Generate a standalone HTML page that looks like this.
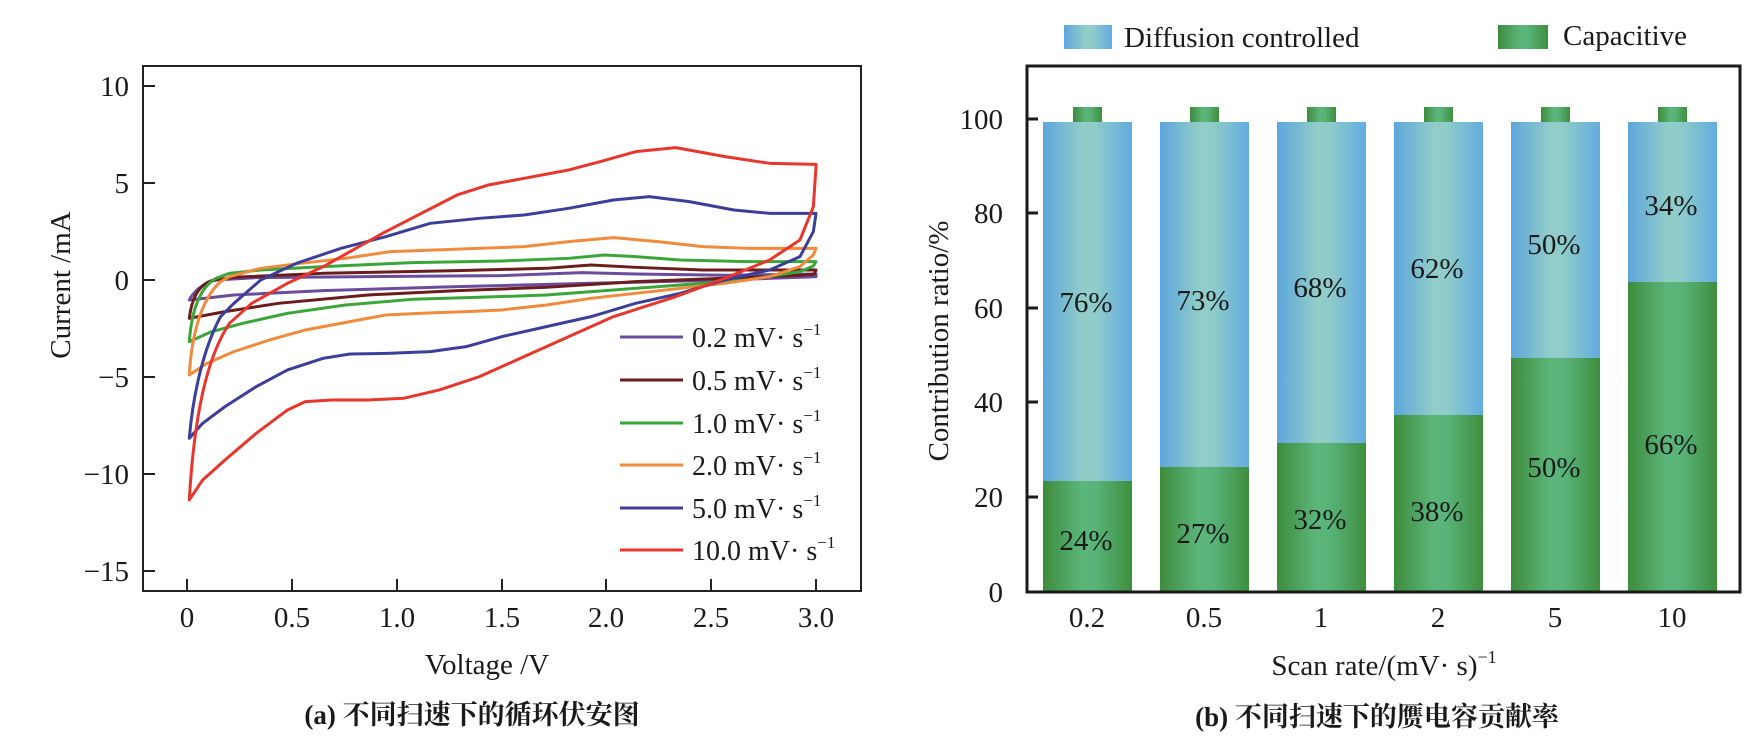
<!DOCTYPE html>
<html><head><meta charset="utf-8"><style>
html,body{margin:0;padding:0;background:#fff;}
svg{display:block;}
text{font-family:"Liberation Serif","Noto Serif CJK SC",serif;fill:#1a1a1a;}
</style></head><body>
<svg width="1744" height="748" viewBox="0 0 1744 748" xmlns="http://www.w3.org/2000/svg">
<defs>
<linearGradient id="gb" x1="0" x2="1" y1="0" y2="0">
<stop offset="0" stop-color="#5da6dc"/><stop offset="0.45" stop-color="#92cdc8"/><stop offset="0.6" stop-color="#8ecbca"/><stop offset="1" stop-color="#62ace0"/></linearGradient>
<linearGradient id="gg" x1="0" x2="1" y1="0" y2="0">
<stop offset="0" stop-color="#3d8c3c"/><stop offset="0.45" stop-color="#5cb67b"/><stop offset="0.6" stop-color="#58b378"/><stop offset="1" stop-color="#3f8e3e"/></linearGradient>
</defs>

<!-- LEFT CHART -->
<rect x="143" y="66" width="718" height="525" fill="none" stroke="#222" stroke-width="2"/>
<g stroke="#222" stroke-width="2">
<line x1="143" y1="86" x2="155" y2="86"/><line x1="143" y1="183" x2="155" y2="183"/>
<line x1="143" y1="280" x2="155" y2="280"/><line x1="143" y1="377" x2="155" y2="377"/>
<line x1="143" y1="474" x2="155" y2="474"/><line x1="143" y1="571" x2="155" y2="571"/>
<line x1="187" y1="591" x2="187" y2="579"/><line x1="292" y1="591" x2="292" y2="579"/>
<line x1="397" y1="591" x2="397" y2="579"/><line x1="502" y1="591" x2="502" y2="579"/>
<line x1="606" y1="591" x2="606" y2="579"/><line x1="711" y1="591" x2="711" y2="579"/>
<line x1="816" y1="591" x2="816" y2="579"/>
</g>
<g font-size="29" text-anchor="end">
<text x="129" y="96">10</text><text x="129" y="193">5</text><text x="129" y="290">0</text>
<text x="129" y="387">−5</text><text x="129" y="484">−10</text><text x="129" y="581">−15</text>
</g>
<g font-size="29" text-anchor="middle">
<text x="187" y="627">0</text><text x="292" y="627">0.5</text><text x="397" y="627">1.0</text>
<text x="502" y="627">1.5</text><text x="606" y="627">2.0</text><text x="711" y="627">2.5</text><text x="816" y="627">3.0</text>
</g>
<text x="487" y="674" font-size="29" text-anchor="middle">Voltage /V</text>
<text transform="translate(70,285) rotate(-90)" font-size="29" text-anchor="middle">Current /mA</text>
<text x="472" y="724" font-size="27" font-weight="bold" text-anchor="middle">(a) 不同扫速下的循环伏安图</text>

<g transform="translate(100,50) scale(0.4464,0.3333)" fill="none" stroke-width="3" stroke-linejoin="round">
<path vector-effect="non-scaling-stroke" stroke="#6a4c9c" d="M200,750 C210,725 230,700 260,690 L350,683 600,680 900,677 1080,668 1200,672 1400,676 1604,672 L1604,680 1568,682 1400,690 1100,700 800,710 500,722 300,735 Z"/>
<path vector-effect="non-scaling-stroke" stroke="#6b1c1c" d="M200,805 C205,750 220,705 250,692 L300,682 500,670 800,662 1000,655 1100,645 1200,652 1350,660 1604,660 L1600,672 1568,676 1400,685 1200,695 1000,712 800,722 600,735 400,760 280,785 Z"/>
<path vector-effect="non-scaling-stroke" stroke="#3aa63a" d="M200,875 C205,790 220,715 260,685 L290,670 360,660 500,650 700,638 900,633 1050,625 1130,615 1200,620 1300,630 1450,635 1604,635 L1598,648 1568,665 1450,690 1300,705 1150,720 1000,735 850,742 700,748 550,765 420,790 320,820 250,845 Z"/>
<path vector-effect="non-scaling-stroke" stroke="#f08a3c" d="M200,975 C205,860 225,750 270,695 L290,680 360,655 450,640 550,625 650,605 750,600 850,595 950,590 1050,575 1150,563 1250,575 1350,590 1450,595 1604,595 L1598,615 1568,650 1500,680 1400,700 1300,715 1200,730 1100,745 1000,765 900,780 820,785 720,790 640,795 560,815 460,840 380,870 300,905 240,940 Z"/>
<path vector-effect="non-scaling-stroke" stroke="#3b3f99" d="M200,1165 C208,1040 230,900 270,800 L300,760 360,690 440,640 540,595 640,560 740,520 850,505 950,495 1050,475 1150,450 1230,440 1320,455 1420,480 1500,490 1604,490 L1598,545 1568,620 1500,660 1400,690 1300,730 1200,760 1100,800 1000,830 900,860 820,890 740,905 650,910 560,912 500,925 420,960 350,1010 280,1070 230,1120 Z"/>
<path vector-effect="non-scaling-stroke" stroke="#e8362d" d="M200,1350 C210,1120 235,930 290,820 L340,760 420,700 500,650 640,545 720,490 800,435 870,405 950,385 1050,360 1120,335 1200,305 1290,293 1400,320 1500,340 1604,343 L1604,350 1598,470 1568,570 1500,630 1400,685 1290,740 1150,800 1050,860 950,920 850,980 760,1020 680,1045 600,1050 520,1050 460,1055 420,1080 350,1150 280,1230 230,1290 Z"/>
</g>

<g stroke-width="3">
<line x1="620" y1="337" x2="683" y2="337" stroke="#6a4c9c"/>
<line x1="620" y1="380" x2="683" y2="380" stroke="#6b1c1c"/>
<line x1="620" y1="423" x2="683" y2="423" stroke="#3aa63a"/>
<line x1="620" y1="465" x2="683" y2="465" stroke="#f08a3c"/>
<line x1="620" y1="508" x2="683" y2="508" stroke="#3b3f99"/>
<line x1="620" y1="550" x2="683" y2="550" stroke="#e8362d"/>
</g>
<g font-size="28">
<text x="692" y="347">0.2 mV· s<tspan font-size="17" dy="-12">−1</tspan></text>
<text x="692" y="390">0.5 mV· s<tspan font-size="17" dy="-12">−1</tspan></text>
<text x="692" y="433">1.0 mV· s<tspan font-size="17" dy="-12">−1</tspan></text>
<text x="692" y="475">2.0 mV· s<tspan font-size="17" dy="-12">−1</tspan></text>
<text x="692" y="518">5.0 mV· s<tspan font-size="17" dy="-12">−1</tspan></text>
<text x="692" y="560">10.0 mV· s<tspan font-size="17" dy="-12">−1</tspan></text>
</g>

<!-- RIGHT CHART -->
<rect x="1064" y="25" width="48" height="24" fill="url(#gb)"/>
<text x="1124" y="47" font-size="29">Diffusion controlled</text>
<rect x="1498" y="25" width="50" height="24" fill="url(#gg)"/>
<text x="1563" y="45" font-size="29">Capacitive</text>

<g>
<rect x="1043" y="122" width="89" height="470" fill="url(#gb)"/><rect x="1043" y="481" width="89" height="111" fill="url(#gg)"/><rect x="1073" y="107" width="29" height="15" fill="url(#gg)"/>
<rect x="1160" y="122" width="89" height="470" fill="url(#gb)"/><rect x="1160" y="467" width="89" height="125" fill="url(#gg)"/><rect x="1190" y="107" width="29" height="15" fill="url(#gg)"/>
<rect x="1277" y="122" width="89" height="470" fill="url(#gb)"/><rect x="1277" y="443" width="89" height="149" fill="url(#gg)"/><rect x="1307" y="107" width="29" height="15" fill="url(#gg)"/>
<rect x="1394" y="122" width="89" height="470" fill="url(#gb)"/><rect x="1394" y="415" width="89" height="177" fill="url(#gg)"/><rect x="1424" y="107" width="29" height="15" fill="url(#gg)"/>
<rect x="1511" y="122" width="89" height="470" fill="url(#gb)"/><rect x="1511" y="358" width="89" height="234" fill="url(#gg)"/><rect x="1541" y="107" width="29" height="15" fill="url(#gg)"/>
<rect x="1628" y="122" width="89" height="470" fill="url(#gb)"/><rect x="1628" y="282" width="89" height="310" fill="url(#gg)"/><rect x="1658" y="107" width="29" height="15" fill="url(#gg)"/>
</g>
<rect x="1027" y="66" width="713" height="526" fill="none" stroke="#1a1a1a" stroke-width="3"/>
<g stroke="#1a1a1a" stroke-width="3">
<line x1="1027" y1="119" x2="1038" y2="119"/><line x1="1027" y1="213" x2="1038" y2="213"/>
<line x1="1027" y1="308" x2="1038" y2="308"/><line x1="1027" y1="402" x2="1038" y2="402"/>
<line x1="1027" y1="497" x2="1038" y2="497"/>
</g>
<g font-size="29" text-anchor="end">
<text x="1003" y="129">100</text><text x="1003" y="223">80</text><text x="1003" y="318">60</text>
<text x="1003" y="412">40</text><text x="1003" y="507">20</text><text x="1003" y="602">0</text>
</g>
<g font-size="29" text-anchor="middle">
<text x="1087" y="627">0.2</text><text x="1204" y="627">0.5</text><text x="1321" y="627">1</text>
<text x="1438" y="627">2</text><text x="1555" y="627">5</text><text x="1672" y="627">10</text>
</g>
<g font-size="29" text-anchor="middle">
<text x="1086" y="312">76%</text><text x="1086" y="550">24%</text>
<text x="1203" y="310">73%</text><text x="1203" y="543">27%</text>
<text x="1320" y="297">68%</text><text x="1320" y="529">32%</text>
<text x="1437" y="278">62%</text><text x="1437" y="521">38%</text>
<text x="1554" y="254">50%</text><text x="1554" y="477">50%</text>
<text x="1671" y="215">34%</text><text x="1671" y="454">66%</text>
</g>
<text transform="translate(948,341) rotate(-90)" font-size="29" text-anchor="middle">Contribution ratio/%</text>
<text x="1384" y="675" font-size="29" text-anchor="middle">Scan rate/(mV· s)<tspan font-size="18" dy="-12">−1</tspan></text>
<text x="1377" y="726" font-size="27" font-weight="bold" text-anchor="middle">(b) 不同扫速下的赝电容贡献率</text>
</svg>
</body></html>
